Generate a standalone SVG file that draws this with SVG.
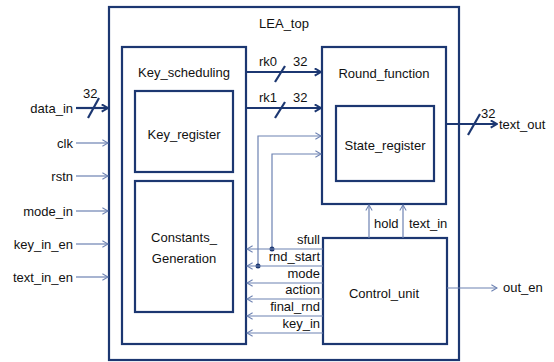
<svg xmlns="http://www.w3.org/2000/svg" width="554" height="362" viewBox="0 0 554 362">
<defs>
<style>
.box{fill:#fff;stroke:#1c3771;stroke-width:2.2}
.t{font-family:"Liberation Sans",Arial,sans-serif;font-size:13px;fill:#111}
.c{text-anchor:middle}
.r{text-anchor:end}
.thick{stroke:#1c3771;stroke-width:2.2;fill:none}
.thin{stroke:#6d82b2;stroke-width:1.2;fill:none}
</style>
<marker id="ah" viewBox="0 0 10 10" refX="9" refY="5" markerWidth="9" markerHeight="9" orient="auto" markerUnits="userSpaceOnUse">
<path d="M2,1 L9,5 L2,9" fill="none" stroke="#1c3771" stroke-width="2.2"/>
</marker>
<marker id="at" viewBox="0 0 10 10" refX="9" refY="5" markerWidth="8" markerHeight="8" orient="auto" markerUnits="userSpaceOnUse">
<path d="M2,1 L9,5 L2,9" fill="none" stroke="#6d82b2" stroke-width="1.3"/>
</marker>
</defs>
<rect width="554" height="362" fill="#fff"/>
<g id="LEA_top">
<rect class="box" x="109" y="7" width="350" height="353"/>
<text class="t c" x="284" y="28" font-size="14">LEA_top</text>
</g>
<g id="Key_scheduling">
<rect class="box" x="122" y="47" width="124" height="297"/>
<text class="t c" x="184" y="77" font-size="14">Key_scheduling</text>
</g>
<g id="Key_register">
<rect class="box" x="135" y="91" width="98" height="81"/>
<text class="t c" x="184" y="139" font-size="14">Key_register</text>
</g>
<g id="Constants_Generation">
<rect class="box" x="135" y="181" width="98" height="131"/>
<text class="t c" x="184" y="242" font-size="14">Constants_</text>
<text class="t c" x="184" y="263" font-size="14">Generation</text>
</g>
<g id="Round_function">
<rect class="box" x="322" y="47" width="124" height="157"/>
<text class="t c" x="384" y="78" font-size="14">Round_function</text>
</g>
<g id="State_register">
<rect class="box" x="336" y="106" width="98" height="75"/>
<text class="t c" x="385" y="150" font-size="14">State_register</text>
</g>
<g id="Control_unit">
<rect class="box" x="323" y="238" width="124" height="106"/>
<text class="t c" x="384" y="298" font-size="14">Control_unit</text>
</g>
<g id="connectors">
<line class="thick" x1="76" y1="108" x2="108" y2="108" marker-end="url(#ah)"/>
<line class="thick" x1="88" y1="118" x2="99" y2="98"/>
<line class="thin" x1="76" y1="143" x2="108" y2="143" marker-end="url(#at)"/>
<line class="thin" x1="76" y1="176" x2="108" y2="176" marker-end="url(#at)"/>
<line class="thin" x1="76" y1="211" x2="108" y2="211" marker-end="url(#at)"/>
<line class="thin" x1="76" y1="244" x2="108" y2="244" marker-end="url(#at)"/>
<line class="thin" x1="76" y1="277" x2="108" y2="277" marker-end="url(#at)"/>
<line class="thick" x1="246" y1="72" x2="321" y2="72" marker-end="url(#ah)"/>
<line class="thick" x1="275" y1="82" x2="285" y2="66"/>
<line class="thick" x1="246" y1="108" x2="321" y2="108" marker-end="url(#ah)"/>
<line class="thick" x1="275" y1="118" x2="285" y2="102"/>
<line class="thick" x1="446" y1="124" x2="497" y2="124" marker-end="url(#ah)"/>
<line class="thick" x1="468" y1="135" x2="480" y2="114"/>
<polyline class="thin" points="258,266 258,136 321,136" marker-end="url(#at)"/>
<polyline class="thin" points="272,249 272,154 321,154" marker-end="url(#at)"/>
<circle cx="258" cy="266" r="2.5" fill="#1c3771"/>
<circle cx="272" cy="249" r="2.5" fill="#1c3771"/>
<line class="thin" x1="323" y1="249" x2="247" y2="249" marker-end="url(#at)"/>
<line class="thin" x1="323" y1="266" x2="247" y2="266" marker-end="url(#at)"/>
<line class="thin" x1="323" y1="283" x2="247" y2="283" marker-end="url(#at)"/>
<line class="thin" x1="323" y1="299" x2="247" y2="299" marker-end="url(#at)"/>
<line class="thin" x1="323" y1="316" x2="247" y2="316" marker-end="url(#at)"/>
<line class="thin" x1="323" y1="333" x2="247" y2="333" marker-end="url(#at)"/>
<line class="thin" x1="369" y1="238" x2="369" y2="205" marker-end="url(#at)"/>
<line class="thin" x1="403" y1="238" x2="403" y2="205" marker-end="url(#at)"/>
<line class="thin" x1="447" y1="288" x2="497" y2="288" marker-end="url(#at)"/>
</g>
<g id="labels">
<text class="t r" x="73" y="113">data_in</text>
<text class="t" x="83" y="98">32</text>
<text class="t r" x="73" y="148">clk</text>
<text class="t r" x="73" y="181">rstn</text>
<text class="t r" x="73" y="216">mode_in</text>
<text class="t r" x="73" y="249">key_in_en</text>
<text class="t r" x="73" y="282">text_in_en</text>
<text class="t" x="259" y="66">rk0</text>
<text class="t" x="293" y="66">32</text>
<text class="t" x="259" y="102">rk1</text>
<text class="t" x="293" y="102">32</text>
<text class="t" x="481" y="118">32</text>
<text class="t" x="499" y="129">text_out</text>
<text class="t" x="374" y="228">hold</text>
<text class="t" x="409" y="228">text_in</text>
<text class="t r" x="320" y="244">sfull</text>
<text class="t r" x="320" y="261">rnd_start</text>
<text class="t r" x="320" y="278">mode</text>
<text class="t r" x="320" y="294">action</text>
<text class="t r" x="320" y="311">final_rnd</text>
<text class="t r" x="320" y="328">key_in</text>
<text class="t" x="503" y="292">out_en</text>
</g>
</svg>
